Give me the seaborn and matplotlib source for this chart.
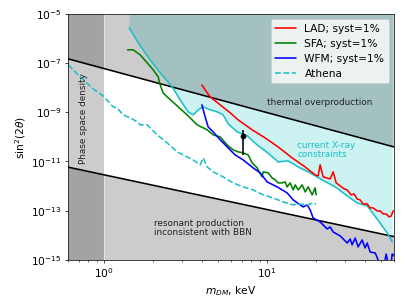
import numpy as np
import pandas as pd
import matplotlib
matplotlib.use("Agg")
import matplotlib.pyplot as plt
import matplotlib.ticker as mticker
import seaborn as sns

# ---------------- data ----------------
thermal_m = [0.6, 60.0]
thermal_s = [1.48e-7, 3.9e-11]
resonant_m = [0.6, 60.0]
resonant_s = [5.9e-12, 8.9e-15]
phase_m = [0.6, 1.0]

xray_m = [1.423, 1.663, 1.915, 2.206, 2.614, 2.926, 3.276, 3.516, 3.773, 4.050,
          4.470, 4.935, 5.372, 5.764, 6.546, 7.541, 8.684, 9.721, 10.43, 11.68,
          13.45, 15.50, 17.85, 21.75, 26.14, 30.96, 35.66, 41.07, 47.30, 54.48, 58.47]
xray_s = [2.7e-6, 5.0e-7, 1.35e-7, 4.0e-8, 1.08e-8, 3.2e-9, 1.04e-9, 7.8e-10, 1.25e-9, 1.66e-9,
          1.25e-9, 1.04e-9, 7.8e-10, 3.4e-10, 1.6e-10, 1.1e-10, 4.7e-11, 2.7e-11, 1.85e-11, 9.6e-12,
          1.06e-11, 6.0e-12, 3.8e-12, 1.79e-12, 9.3e-13, 4.0e-13, 2.07e-13, 1.57e-13, 4.6e-14, 1.25e-14, 5.4e-15]

lad_m = [3.976, 4.166, 4.470, 5.149, 5.929, 6.639, 8.090, 9.721, 11.68, 14.23, 17.11, 19.70,
         20.55, 21.14, 22.06, 24.35, 25.41, 26.51, 28.05, 29.68, 30.96, 32.76, 34.18, 35.66,
         37.20, 38.81, 41.07, 42.84, 44.70, 47.30, 49.35, 51.48, 53.72, 56.03, 57.64, 59.30]
lad_s = [1.3e-8, 8.1e-9, 4.2e-9, 2.0e-9, 9.5e-10, 4.9e-10, 1.93e-10, 9.1e-11, 3.9e-11, 1.4e-11, 6.0e-12, 2.85e-12,
         2.6e-12, 7.3e-12, 2.37e-12, 1.96e-12, 3.8e-12, 1.35e-12, 1.02e-12, 7.7e-13, 7.0e-13, 4.4e-13, 4.8e-13, 3.0e-13,
         2.75e-13, 1.89e-13, 1.89e-13, 1.3e-13, 1.3e-13, 9.8e-14, 9.8e-14, 7.4e-14, 7.4e-14, 5.6e-14, 6.1e-14, 1.0e-13]

sfa_m = [1.390, 1.506, 1.663, 1.836, 1.998, 2.145, 2.206, 2.301, 2.435, 2.804, 3.230, 3.720,
         4.284, 4.664, 5.149, 5.683, 6.186, 6.639, 7.124, 7.645, 8.090, 8.684, 9.319, 9.452,
         10.14, 10.73, 11.20, 11.68, 12.36, 12.90, 13.27, 13.84, 14.44, 14.85, 15.50, 16.40,
         17.11, 17.85, 18.89, 19.70, 19.98]
sfa_s = [3.44e-7, 3.44e-7, 2.15e-7, 1.02e-7, 5.3e-8, 2.75e-8, 1.3e-8, 6.1e-9, 4.2e-9, 1.82e-9, 7.8e-10, 3.08e-10,
         1.93e-10, 1.21e-10, 1.0e-10, 4.7e-11, 2.96e-11, 2.46e-11, 2.24e-11, 1.85e-11, 8.8e-12, 5.5e-12, 2.37e-12, 3.8e-12,
         3.44e-12, 2.15e-12, 1.79e-12, 1.35e-12, 1.35e-12, 1.48e-12, 9.3e-13, 1.35e-12, 7.0e-13, 1.12e-12, 7.0e-13, 1.12e-12,
         5.8e-13, 9.3e-13, 4.4e-13, 8.5e-13, 4.4e-13]

wfm_m = [3.976, 4.166, 4.345, 4.664, 5.149, 5.764, 6.363, 7.124, 8.206, 9.060, 10.0, 11.52,
         13.27, 14.44, 15.94, 16.63, 17.60, 18.36, 19.15, 21.14, 23.34, 24.35, 25.41, 28.05,
         30.96, 32.30, 33.22, 34.67, 36.17, 38.26, 39.92, 41.07, 42.84, 45.98, 47.97, 50.05,
         52.21, 53.72, 55.26, 57.64, 58.47, 60.13]
wfm_s = [2.0e-9, 6.5e-10, 2.55e-10, 1.6e-10, 7.6e-11, 3.57e-11, 1.85e-11, 1.16e-11, 5.5e-12, 3.44e-12, 1.48e-12, 9.3e-13,
         5.3e-13, 2.75e-13, 1.72e-13, 1.43e-13, 1.72e-13, 1.08e-13, 5.1e-14, 3.5e-14, 1.82e-14, 2.19e-14, 1.37e-14, 9.5e-15,
         4.9e-15, 7.1e-15, 4.1e-15, 7.8e-15, 3.4e-15, 6.5e-15, 3.08e-15, 4.9e-15, 2.1e-15, 1.93e-15, 1.0e-15, 6.9e-16,
         6.3e-16, 1.75e-15, 6.9e-16, 6.9e-16, 1.75e-15, 1.45e-15]

athena_m = [0.601, 0.712, 0.856, 0.986, 1.136, 1.202, 1.308, 1.444, 1.594, 1.663, 1.836, 2.114,
            2.435, 2.804, 3.230, 3.516, 3.881, 4.050, 4.284, 4.664, 5.372, 6.186, 7.124, 8.206,
            9.452, 10.88, 12.54, 14.44, 15.50, 17.60, 19.15, 19.98]
athena_s = [8.5e-8, 2.75e-8, 8.9e-9, 4.6e-9, 1.66e-9, 1.51e-9, 7.8e-10, 5.9e-10, 4.1e-10, 3.08e-10, 3.08e-10, 1.21e-10,
            5.7e-11, 2.46e-11, 1.54e-11, 1.16e-11, 7.3e-12, 1.4e-11, 6.0e-12, 3.8e-12, 2.37e-12, 1.35e-12, 9.3e-13, 7.0e-13,
            4.4e-13, 3.3e-13, 2.28e-13, 1.72e-13, 1.89e-13, 1.72e-13, 2.07e-13, 1.89e-13]

line_m = [7.12]
line_s = [1.1e-10]
line_lo = [1.85e-11]
line_hi = [1.93e-10]

series_labels = ["LAD; syst=1%", "SFA; syst=1%", "WFM; syst=1%", "Athena"]

CYAN = "#00bfbf"
CYAN_LINE = "#1cc0c8"

# ---------------- style ----------------
sns.set_theme(style="ticks", color_codes=False, rc={
    "font.size": 12, "axes.labelsize": 12, "xtick.labelsize": 12, "ytick.labelsize": 12,
    "legend.fontsize": 12, "axes.edgecolor": "black", "text.color": "black",
    "axes.labelcolor": "black", "xtick.color": "black", "ytick.color": "black",
    "axes.linewidth": 0.8, "xtick.major.size": 3.5, "ytick.major.size": 3.5,
    "xtick.minor.size": 2, "ytick.minor.size": 2, "xtick.major.width": 0.8,
    "ytick.major.width": 0.8, "xtick.minor.width": 0.6, "lines.linewidth": 1.8,
})
plt.rcParams["font.family"] = ["DejaVu Sans"]

fig, ax = plt.subplots(figsize=(6.4, 4.8), dpi=63.6)
fig.subplots_adjust(left=0.167, right=0.968, bottom=0.1475, top=0.954)
ax.set_xscale("log")
ax.set_yscale("log")
ymin, ymax = 1e-15, 1e-5

# shaded regions
ax.fill_between(phase_m, [ymin, ymin], [ymax, ymax], color="black", alpha=0.2, lw=0, zorder=0)
ax.axvline(phase_m[1], color="white", alpha=0.45, lw=1.2, zorder=0.5)
ax.fill_between(xray_m, xray_s, ymax, color=CYAN, alpha=0.2, lw=0, zorder=0)
ax.fill_between(thermal_m, thermal_s, ymax, color="black", alpha=0.2, lw=0, zorder=0)
ax.fill_between(resonant_m, ymin, resonant_s, color="black", alpha=0.2, lw=0, zorder=0)

LW = 1.8
sns.lineplot(x=thermal_m, y=thermal_s, ax=ax, color="black", lw=LW, estimator=None)
sns.lineplot(x=resonant_m, y=resonant_s, ax=ax, color="black", lw=LW, estimator=None)
sns.lineplot(x=xray_m, y=xray_s, ax=ax, color=CYAN_LINE, lw=LW, estimator=None)

sns.lineplot(x=lad_m, y=lad_s, ax=ax, color="#ff0000", lw=LW, estimator=None, label=series_labels[0])
sns.lineplot(x=sfa_m, y=sfa_s, ax=ax, color="#008000", lw=LW, estimator=None, label=series_labels[1])
sns.lineplot(x=wfm_m, y=wfm_s, ax=ax, color="#0000ff", lw=LW, estimator=None, label=series_labels[2])
sns.lineplot(x=athena_m, y=athena_s, ax=ax, color=CYAN_LINE, lw=LW, linestyle="--",
             estimator=None, label=series_labels[3])

ax.errorbar(line_m, line_s,
            yerr=[[line_s[0] - line_lo[0]], [line_hi[0] - line_s[0]]],
            fmt="o", color="black", ms=5.5, lw=1.8, capsize=0, zorder=5)

# annotations
ax.text(21.1, 2.6e-9, "thermal overproduction", fontsize=10, ha="center", va="center", color="#222222")
ax.text(15.3, 2.95e-11, "current X-ray\nconstraints", fontsize=10, ha="left", va="center",
        color=CYAN_LINE, linespacing=1.0)
ax.text(2.03, 2.0e-14, "resonant production\ninconsistent with BBN", fontsize=10, ha="left",
        va="center", color="#222222", linespacing=1.0)
ax.text(0.743, 5.9e-10, "Phase space density", fontsize=10, rotation=90, ha="center",
        va="center", color="#222222")

ax.set_xlim(0.6, 60)
ax.set_ylim(ymin, ymax)
ax.set_yticks([1e-15, 1e-13, 1e-11, 1e-9, 1e-7, 1e-5])
ax.yaxis.set_minor_locator(mticker.NullLocator())
ax.xaxis.set_minor_formatter(mticker.NullFormatter())
ax.set_xlabel(r"$m_{DM}$, keV")
ax.set_ylabel(r"sin$^2(2\theta)$")

ax.legend(loc="upper right", fontsize=12, framealpha=0.8, handlelength=2.0)
for s in ax.spines.values():
    s.set_visible(True)

fig.savefig("out.png", dpi=63.6)
